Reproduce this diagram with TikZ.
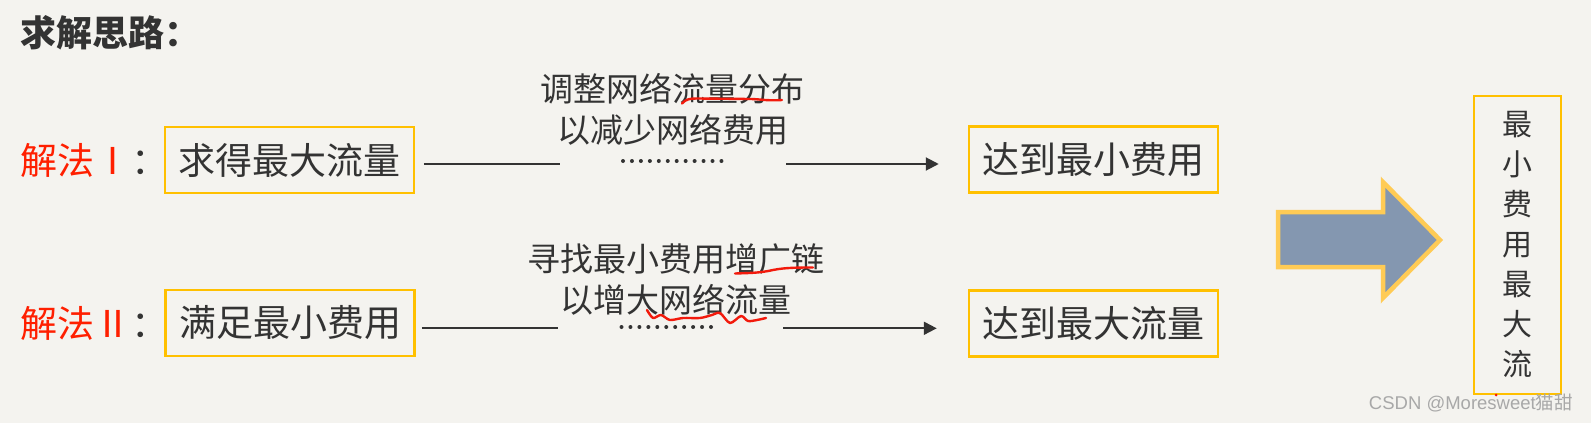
\documentclass[tikz,border=0pt]{standalone}
\usepackage{fontspec}
\usetikzlibrary{arrows.meta}
\setmainfont{Noto Sans CJK SC}
\newfontfamily\wmfont{Liberation Sans}
\definecolor{bgcol}{HTML}{F4F3EF}
\definecolor{inkcol}{HTML}{333333}
\definecolor{boxcol}{HTML}{FFC000}
\definecolor{redcol}{HTML}{FF1F00}
\definecolor{arrowfill}{HTML}{8497B0}
\definecolor{arrowline}{HTML}{FFCB55}
\definecolor{markcol}{HTML}{F21A0C}
\definecolor{wmcol}{HTML}{A8A8A8}

\begin{document}
\begin{tikzpicture}[x=1pt,y=-1pt,
  goalbox/.style={draw=boxcol,line width=2.5pt,inner sep=0pt,minimum width=249pt,minimum height=66pt,text=inkcol,font=\fontsize{37}{44}\selectfont},
  methodlabel/.style={anchor=west,inner sep=0pt,text=redcol,font=\fontsize{37}{44}\selectfont},
  note/.style={inner sep=0pt,text=inkcol,align=center,font=\fontsize{33}{41}\selectfont},
  flowline/.style={draw=inkcol,line width=2pt},
  dotrow/.style={draw=inkcol,line width=4pt,line cap=round,dash pattern=on 0pt off 8.95pt},
  redmark/.style={draw=markcol,line width=2.4pt,line cap=round,line join=round}]
\fill[bgcol] (0,0) rectangle (1591,423);
\path[use as bounding box] (0,0) rectangle (1591,423);
% heading
\node[anchor=west,inner sep=0pt,text=inkcol,font=\fontsize{36}{43}\selectfont\bfseries] (title) at (20,33) {求解思路：};
% method one
\node[methodlabel] (m1) at (20,160) {解法Ⅰ\textcolor{inkcol}{：}};
\node[goalbox] (b1) at (289.5,160) {求得最大流量};
\node[goalbox] (e1) at (1093.5,159.5) {达到最小费用};
\node[note] (n1) at (672.5,109) {调整网络流量分布\\以减少网络费用};
\coordinate (g1a) at (560,163.5);
\coordinate (d1a) at (623,161);
\coordinate (d1b) at (721.5,161);
\coordinate (g1b) at (786,164);
\draw[flowline,shorten <=8.7pt] (b1.east |- g1a) -- (g1a);
\draw[dotrow] (d1a) -- (d1b);
\draw[flowline,-{Triangle[length=13pt,width=13pt]},shorten >=29pt] (g1b) -- (g1b -| e1.west);
% method two
\node[methodlabel] (m2) at (20,323) {解法Ⅱ\textcolor{inkcol}{：}};
\node[goalbox] (b2) at (290,323) {满足最小费用};
\node[goalbox] (e2) at (1093.5,323.5) {达到最大流量};
\node[note] (n2) at (676,280) {寻找最小费用增广链\\以增大网络流量};
\coordinate (g2a) at (557.5,328);
\coordinate (d2a) at (621.5,327);
\coordinate (d2b) at (719.5,327);
\coordinate (g2b) at (783,328.3);
\draw[flowline,shorten <=6pt] (b2.east |- g2a) -- (g2a);
\draw[dotrow] (d2a) -- (d2b);
\draw[flowline,-{Triangle[length=13pt,width=13pt]},shorten >=31pt] (g2b) -- (g2b -| e2.west);
% hand marks
\draw[redmark] (682,103.5) .. controls (686,99) and (690,98.5) .. (697,98.5) -- (750,99) .. controls (760,99) and (765,101) .. (782,100);
\draw[redmark] (735,273.5) .. controls (750,273) and (760,273) .. (773,270) .. controls (785,267.5) and (800,267.5) .. (813,267.5);
\draw[redmark] plot[smooth] coordinates {(647,310) (653,318) (661,315) (670,320) (683,318) (700,318) (712,315) (720,313) (730,323) (741,316) (748,321) (757,320) (766,318)};
% result
\draw[fill=arrowfill,draw=arrowline,line width=4.5pt,line join=miter] (1278,212) -- (1383,212) -- (1383,182) -- (1440,240) -- (1383,298) -- (1383,267) -- (1278,267) -- cycle;
\node[draw=boxcol,line width=2.5pt,inner sep=0pt,minimum width=87pt,minimum height=298pt,text=inkcol,align=center,font=\fontsize{30}{40}\selectfont] (res) at (1517.5,245) {最\\小\\费\\用\\最\\大\\流};
\fill[markcol] (1496,395) circle (1.5);
\node[anchor=east,inner sep=0pt,text=wmcol,font=\fontsize{18.5}{22}\selectfont] (wm) at (1573,403) {{\wmfont CSDN @Moresweet}猫甜};
\end{tikzpicture}
\end{document}
